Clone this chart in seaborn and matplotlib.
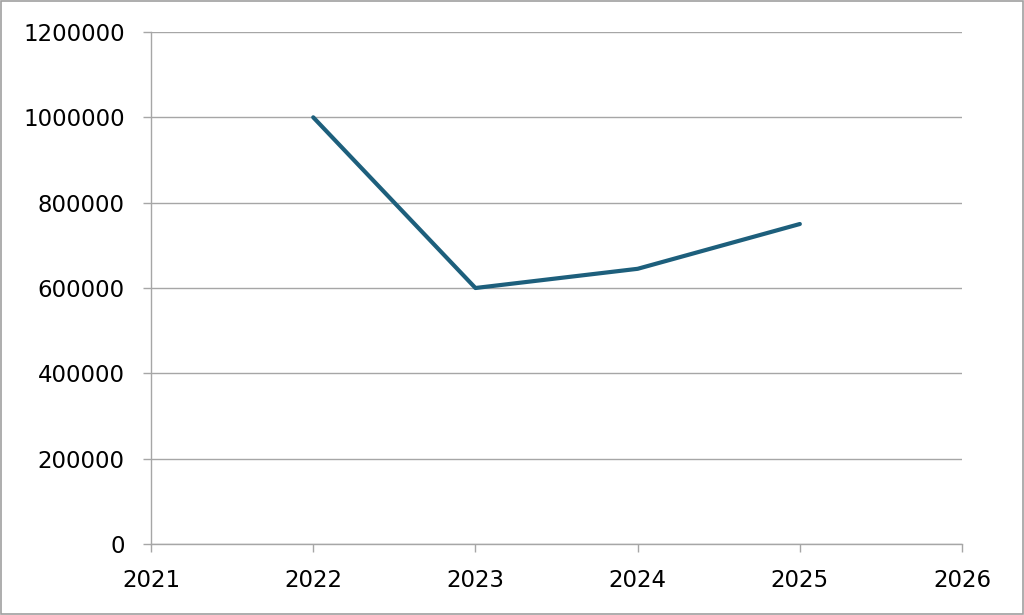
import pandas as pd
import matplotlib
matplotlib.use("Agg")
import matplotlib.pyplot as plt
import matplotlib.ticker as mticker
import seaborn as sns

YEARS = [2022, 2023, 2024, 2025]
VALUES = [1000000, 600000, 645000, 750000]
X_TICKS = [2021, 2022, 2023, 2024, 2025, 2026]
Y_TICKS = [0, 200000, 400000, 600000, 800000, 1000000, 1200000]

LINE_COLOR = "#1d5f7c"
GRID_COLOR = "#a6a6a6"

if __name__ == "__main__":
    df = pd.DataFrame({"year": YEARS, "value": VALUES})

    sns.set_style("white")
    plt.rcParams["font.family"] = ["DejaVu Sans"]

    fig = plt.figure(figsize=(10.24, 6.15), dpi=100)
    ax = fig.add_axes([0.1475, 0.1154, 0.792, 0.8326])

    sns.lineplot(data=df, x="year", y="value", ax=ax, color=LINE_COLOR, linewidth=3.0)

    ax.set_xlim(X_TICKS[0], X_TICKS[-1])
    ax.set_ylim(Y_TICKS[0], Y_TICKS[-1])
    ax.set_xticks(X_TICKS)
    ax.set_yticks(Y_TICKS)
    ax.xaxis.set_major_formatter(mticker.FuncFormatter(lambda v, p: "%d" % v))
    ax.yaxis.set_major_formatter(mticker.FuncFormatter(lambda v, p: "%d" % v))
    ax.set_xlabel("")
    ax.set_ylabel("")

    # horizontal gridlines only
    ax.yaxis.grid(True, color=GRID_COLOR, linewidth=1.0)
    ax.xaxis.grid(False)
    ax.set_axisbelow(True)

    for side in ["top", "right"]:
        ax.spines[side].set_visible(False)
    for side in ["left", "bottom"]:
        ax.spines[side].set_color(GRID_COLOR)
        ax.spines[side].set_linewidth(1.0)

    # seaborn's white style hides tick marks, turn them back on
    ax.tick_params(axis="both", which="major", left=True, bottom=True,
                   labelsize=16.5, labelcolor="black",
                   color=GRID_COLOR, length=6, width=1.0, direction="out")
    ax.tick_params(axis="y", pad=13)
    ax.tick_params(axis="x", pad=12)

    # thin border around the whole picture
    fig.patches.append(plt.Rectangle((0.001, 0.001), 0.998, 0.998, transform=fig.transFigure,
                                     fill=False, edgecolor="#a0a0a0", linewidth=1.2))

    fig.savefig("out.png", dpi=100)
